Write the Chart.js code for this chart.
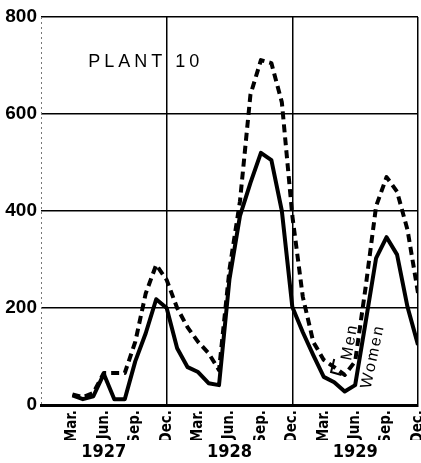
<!DOCTYPE html>
<html>
<head>
<meta charset="utf-8">
<script src="https://cdn.jsdelivr.net/npm/chart.js@4.4.1/dist/chart.umd.min.js"></script>
<style>
  html, body { margin: 0; padding: 0; background: #fff; }
  #wrap { width: 421px; height: 463px; }
</style>
</head>
<body>
<div id="wrap"><canvas id="chart"></canvas></div>
<script>
// months counted from Dec. 1926 (0) to Dec. 1929 (36)
const months = [3, 4, 5, 6, 7, 8, 9, 10, 11, 12, 13, 14, 15, 16, 17, 18, 19, 20,
                21, 22, 23, 24, 25, 26, 27, 28, 29, 30, 31, 32, 33, 34, 35, 36];
const men = [22, 16, 25, 66, 66, 66, 130, 230, 289, 258, 200, 160, 130, 107, 72, 280, 420, 640,
             711, 705, 624, 390, 223, 130, 93, 78, 62, 90, 243, 410, 470, 440, 361, 231];
const women = [20, 12, 18, 64, 12, 12, 90, 148, 218, 200, 117, 78, 68, 45, 41, 260, 390, 458,
               520, 505, 400, 202, 150, 103, 58, 47, 28, 41, 171, 303, 346, 310, 202, 124];
const monthLabels = ['Dec.', 'Mar.', 'Jun.', 'Sep.'];
const yearTicks = [6, 18, 30];
const yearLabels = ['1927', '1928', '1929'];

const narrow = '"Liberation Sans Narrow", "DejaVu Sans Condensed", "Arial Narrow", sans-serif';

const notes = {
  id: 'notes',
  beforeDatasetsDraw(chart) {
    // faint dotted left edge of the frame
    const { ctx, chartArea: a } = chart;
    ctx.save();
    ctx.strokeStyle = '#777';
    ctx.lineWidth = 1;
    ctx.setLineDash([2, 3]);
    ctx.beginPath();
    ctx.moveTo(a.left + 0.5, a.top);
    ctx.lineTo(a.left + 0.5, a.bottom);
    ctx.stroke();
    ctx.restore();
  },
  afterDatasetsDraw(chart) {
    const { ctx, scales: { x, y } } = chart;
    ctx.save();
    ctx.fillStyle = '#000';
    ctx.font = '18px "Liberation Sans", Arial, sans-serif';
    ctx.letterSpacing = '4px';
    ctx.textBaseline = 'middle';
    ctx.fillText('PLANT 10', x.getPixelForValue(4.5), y.getPixelForValue(707));

    ctx.letterSpacing = '2px';
    ctx.font = '16px "Liberation Sans", Arial, sans-serif';
    ctx.textAlign = 'center';
    ctx.save();
    ctx.translate(x.getPixelForValue(29.5), y.getPixelForValue(130));
    ctx.rotate(-80 * Math.PI / 180);
    ctx.fillText('Men', 0, 0);
    ctx.restore();
    ctx.save();
    ctx.translate(x.getPixelForValue(31.7), y.getPixelForValue(100));
    ctx.rotate(-78 * Math.PI / 180);
    ctx.fillText('Women', 0, 0);
    ctx.restore();

    // leader under "Men"
    ctx.strokeStyle = '#000';
    ctx.lineWidth = 2;
    ctx.beginPath();
    ctx.moveTo(x.getPixelForValue(28.0), y.getPixelForValue(95));
    ctx.lineTo(x.getPixelForValue(27.7), y.getPixelForValue(68));
    ctx.lineTo(x.getPixelForValue(28.7), y.getPixelForValue(62));
    ctx.stroke();
    ctx.restore();
  }
};

const noSidePad = s => { s.paddingLeft = 0; s.paddingRight = 0; };

new Chart(document.getElementById('chart'), {
  type: 'line',
  data: {
    datasets: [
      {
        label: 'Men',
        data: months.map((m, i) => ({ x: m, y: men[i] })),
        borderColor: '#000',
        borderWidth: 4,
        borderDash: [8, 5],
        pointRadius: 0,
        tension: 0,
        borderJoinStyle: 'round'
      },
      {
        label: 'Women',
        data: months.map((m, i) => ({ x: m, y: women[i] })),
        borderColor: '#000',
        borderWidth: 4,
        pointRadius: 0,
        tension: 0,
        borderJoinStyle: 'round'
      }
    ]
  },
  options: {
    responsive: true,
    maintainAspectRatio: false,
    animation: false,
    devicePixelRatio: 1,
    layout: { padding: { top: 17, right: 3, left: 0, bottom: 0 } },
    plugins: { legend: { display: false }, tooltip: { enabled: false } },
    scales: {
      x: {
        type: 'linear',
        min: 0,
        max: 36,
        afterFit: s => { s.height = 35; noSidePad(s); },
        ticks: {
          stepSize: 3,
          autoSkip: false,
          maxRotation: 90,
          minRotation: 90,
          padding: 5,
          color: '#000',
          font: { family: narrow, size: 15, weight: 'bold' },
          callback: v => (v === 0 ? '' : monthLabels[(v % 12) / 3])
        },
        grid: {
          drawTicks: false,
          lineWidth: 1.5,
          color: c => (c.tick && c.tick.value > 0 && c.tick.value % 12 === 0 ? '#000' : 'rgba(0,0,0,0)')
        },
        border: { display: true, color: '#000', width: 3 }
      },
      years: {
        type: 'linear',
        position: 'bottom',
        min: 0,
        max: 36,
        afterFit: s => { s.height = 23; noSidePad(s); },
        afterBuildTicks: s => { s.ticks = yearTicks.map(v => ({ value: v })); },
        ticks: {
          autoSkip: false,
          maxRotation: 0,
          padding: 2,
          color: '#000',
          font: { family: narrow, size: 18, weight: 'bold' },
          callback: v => yearLabels[yearTicks.indexOf(v)]
        },
        grid: { display: false, drawTicks: false },
        border: { display: false }
      },
      y: {
        min: 0,
        max: 800,
        afterFit: s => { s.width = 41; },
        ticks: {
          stepSize: 200,
          padding: 4,
          color: '#000',
          font: { family: '"Liberation Sans", Arial, sans-serif', size: 19, weight: 'bold' }
        },
        grid: { drawTicks: false, color: '#000', lineWidth: 1.5 },
        border: { display: false }
      }
    }
  },
  plugins: [notes]
});
</script>
</body>
</html>
